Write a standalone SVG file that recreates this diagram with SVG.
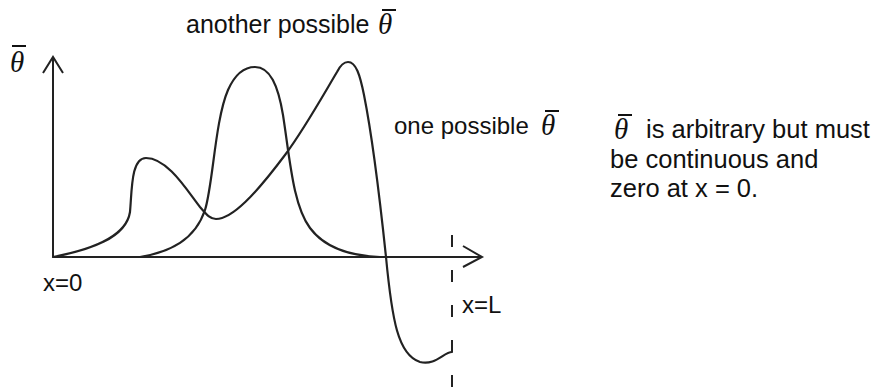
<svg xmlns="http://www.w3.org/2000/svg" width="875" height="388" viewBox="0 0 875 388">
<style>
.t{font-family:"Liberation Sans",Arial,sans-serif;fill:#111}
.th{font-family:"Liberation Serif","Times New Roman",serif;font-style:italic;fill:#111}
.bar{stroke:#111;stroke-width:2}
.ax{stroke:#222;stroke-width:2;fill:none}
.cv{stroke:#222;stroke-width:2.2;fill:none;stroke-linecap:round}
</style>
<rect width="875" height="388" fill="#fff"/>
<g id="axes">
<path class="ax" d="M53,257 V57 M43,73 L53,57 L63,73"/>
<path class="ax" d="M53,257 H482 M463,246 L482,257 L463,267"/>
<line class="ax" x1="452" y1="235" x2="452" y2="388" stroke-dasharray="12,23"/>
</g>
<g id="connectors">
<path id="curve-one" class="cv" d="M53,257 C90,250 126,238 130,212 C132,190 131,158 146,158 C168,158 188,192 200,207 C207,215 210,219 216,219 C232,219 255,195 285,155 C305,128 325,92 337,72 C340,66 343,62 348,62 C356,62 360,75 364,95 C372,135 380,200 386,257 C392,320 398,355 420,362 C435,366 444,352 452,352"/>
<path id="curve-another" class="cv" d="M140,257 C170,252 195,240 205,210 C213,185 215,120 228,90 C236,72 245,67 255,67 C270,67 278,85 283,115 C290,160 293,205 310,228 C325,248 350,256 380,257"/>
</g>
<g id="label-axis-y">
<text class="th" x="10" y="72" font-size="29">θ</text>
<line class="bar" x1="12" y1="46" x2="26" y2="46"/>
</g>
<g id="label-another">
<text class="t" x="186" y="33" font-size="25">another possible</text>
<text class="th" x="378" y="34" font-size="29">θ</text>
<line class="bar" x1="382" y1="10" x2="396" y2="10"/>
</g>
<g id="label-one">
<text class="t" x="394" y="134" font-size="24">one possible</text>
<text class="th" x="541" y="135" font-size="29">θ</text>
<line class="bar" x1="545" y1="111" x2="559" y2="111"/>
</g>
<g id="note">
<text class="th" x="614" y="139" font-size="29">θ</text>
<line class="bar" x1="618" y1="115" x2="632" y2="115"/>
<text class="t" x="646" y="138" font-size="25.5">is arbitrary but must</text>
<text class="t" x="610" y="168" font-size="25.5">be continuous and</text>
<text class="t" x="610" y="197" font-size="25.5">zero at x = 0.</text>
</g>
<g id="label-x0"><text class="t" x="43" y="291" font-size="24">x=0</text></g>
<g id="label-xL"><text class="t" x="462" y="313" font-size="24">x=L</text></g>
</svg>
